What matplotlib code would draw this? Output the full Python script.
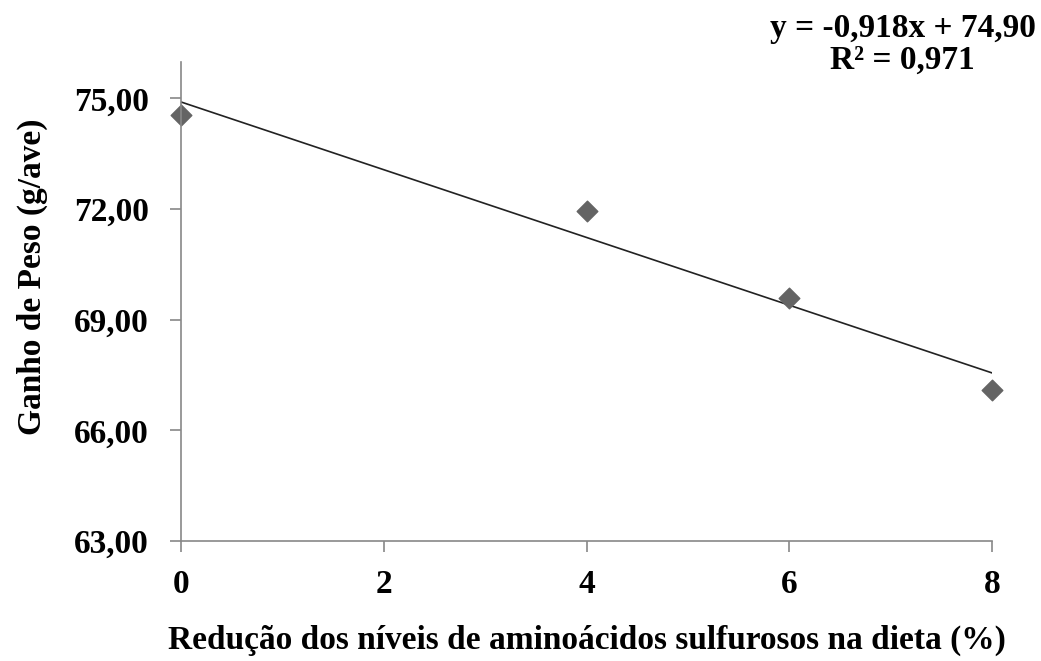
import numpy as np
import matplotlib.pyplot as plt

# Dados
reducao = [0, 4, 6, 8]
ganho_peso = [74.55, 71.95, 69.6, 67.1]
inclinacao = -0.918
intercepto = 74.90
y_ticks = [63, 66, 69, 72, 75]
x_ticks = [0, 2, 4, 6, 8]

plt.rcParams['font.family'] = ['Liberation Serif', 'DejaVu Serif']
plt.rcParams['font.weight'] = 'bold'

fig = plt.figure(figsize=(10.41, 6.61), dpi=100)
ax = fig.add_axes([0.1739, 0.1815, 0.953 - 0.1739, 0.906 - 0.1815])

x_linha = np.array([0, 8])
ax.plot(x_linha, inclinacao * x_linha + intercepto, color='#222222', linewidth=1.2)
ax.scatter(reducao, ganho_peso, marker='D', s=110, color='#646464', zorder=3, clip_on=False)

ax.set_xlim(0, 8)
ax.set_ylim(63, 75.98)
ax.set_xticks(x_ticks)
ax.set_yticks(y_ticks)
ax.set_yticklabels([f'{v:.2f}'.replace('.', ',') for v in y_ticks], fontsize=24, fontweight='bold')
ax.set_xticklabels([str(v) for v in x_ticks], fontsize=24, fontweight='bold')

for lado in ['top', 'right']:
    ax.spines[lado].set_visible(False)
for lado in ['left', 'bottom']:
    ax.spines[lado].set_color('#888888')
    ax.spines[lado].set_linewidth(1.2)
    ax.spines[lado].set_zorder(4)
ax.tick_params(axis='both', color='#888888', length=8, width=1.2, direction='out')
ax.tick_params(axis='x', pad=12)
ax.tick_params(axis='y', pad=15)

ax.set_xlabel('Redução dos níveis de aminoácidos sulfurosos na dieta (%)', fontsize=24,
              fontweight='bold', labelpad=18)
fig.text(0.031, 0.582, 'Ganho de Peso (g/ave)', rotation=90, ha='center', va='center',
         fontsize=24, fontweight='bold')

fig.text(0.867, 0.933, 'y = -0,918x + 74,90\nR² = 0,971', ha='center', va='center',
         fontsize=24, fontweight='bold', linespacing=1.0)

plt.savefig('out.png', dpi=100)
